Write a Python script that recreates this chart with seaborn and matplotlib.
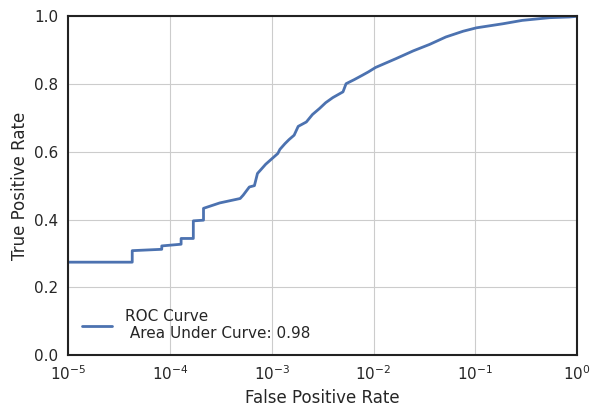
import numpy as np
import matplotlib
matplotlib.use("Agg")
import matplotlib.pyplot as plt
import pandas as pd
import seaborn as sns

# ROC points (log10 of false positive rate, true positive rate)
log_fpr = [-5.0, -4.37, -4.37, -4.08, -4.08, -3.89, -3.89, -3.77, -3.77, -3.67, -3.67,
           -3.51, -3.31, -3.28, -3.22, -3.17, -3.14, -3.11, -3.06, -2.94, -2.92,
           -2.87, -2.83, -2.78, -2.74, -2.66, -2.60, -2.53, -2.47, -2.40, -2.30,
           -2.27, -2.19, -2.11, -2.05, -1.98, -1.78, -1.61, -1.45, -1.29, -1.12,
           -0.99, -0.73, -0.54, -0.27, -0.08, 0.0]
tpr = [0.274, 0.274, 0.308, 0.312, 0.322, 0.327, 0.344, 0.344, 0.396, 0.398, 0.433,
       0.449, 0.462, 0.472, 0.496, 0.500, 0.536, 0.546, 0.563, 0.595, 0.607,
       0.624, 0.636, 0.649, 0.675, 0.688, 0.710, 0.728, 0.745, 0.760, 0.777,
       0.801, 0.813, 0.826, 0.836, 0.849, 0.875, 0.898, 0.917, 0.939, 0.956,
       0.966, 0.978, 0.988, 0.996, 0.998, 1.0]
label = "ROC Curve\n Area Under Curve: 0.98"

df = pd.DataFrame({"fpr": np.power(10.0, log_fpr), "tpr": tpr})

sns.set_style("whitegrid", {"axes.edgecolor": "#222222", "grid.color": "#cccccc"})
plt.rcParams["font.family"] = ["DejaVu Sans"]

fig, ax = plt.subplots(figsize=(5.92, 4.08), dpi=100)
sns.lineplot(data=df, x="fpr", y="tpr", ax=ax, color="#4C72B0", linewidth=2,
             label=label, sort=False, estimator=None)
ax.set_xscale("log")
ax.set_xlim(1e-5, 1)
ax.set_ylim(0, 1)
ax.set_xlabel("False Positive Rate", fontsize=12)
ax.set_ylabel("True Positive Rate", fontsize=12)
ax.tick_params(labelsize=11)
for s in ax.spines.values():
    s.set_linewidth(1.5)
ax.legend(loc="lower left", frameon=False, fontsize=11)

plt.subplots_adjust(left=0.115, right=0.975, top=0.96, bottom=0.13)
plt.savefig("out.png", dpi=100)
